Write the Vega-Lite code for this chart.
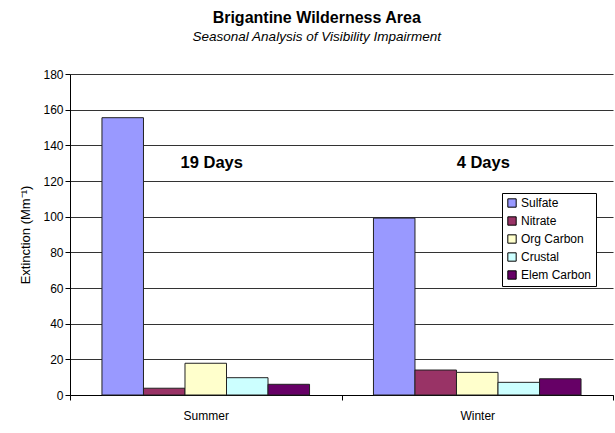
{
  "$schema": "https://vega.github.io/schema/vega-lite/v6.json",
  "width": 543,
  "height": 321,
  "autosize": {"type": "none"},
  "padding": {"left": 70, "top": 74, "right": 2, "bottom": 38},
  "background": "white",
  "config": {
    "font": "Liberation Sans",
    "view": {"stroke": null},
    "axis": {"labelFont": "Liberation Sans", "titleFont": "Liberation Sans", "domainColor": "#000", "tickColor": "#000", "labelColor": "#000", "titleColor": "#000"}
  },
  "title": {
    "text": "Brigantine Wilderness Area",
    "subtitle": "Seasonal Analysis of Visibility Impairment",
    "anchor": "middle",
    "frame": "bounds",
    "fontSize": 16,
    "fontWeight": "bold",
    "color": "#000",
    "subtitleFontSize": 13.5,
    "subtitleFontStyle": "italic",
    "subtitleColor": "#000",
    "subtitlePadding": 4,
    "offset": 25
  },
  "datasets": {
    "bars": [
      {"season": "Summer", "species": "Sulfate", "value": 155.5},
      {"season": "Summer", "species": "Nitrate", "value": 3.8},
      {"season": "Summer", "species": "Org Carbon", "value": 17.8},
      {"season": "Summer", "species": "Crustal", "value": 9.7},
      {"season": "Summer", "species": "Elem Carbon", "value": 6.0},
      {"season": "Winter", "species": "Sulfate", "value": 99.2},
      {"season": "Winter", "species": "Nitrate", "value": 14.0},
      {"season": "Winter", "species": "Org Carbon", "value": 12.7},
      {"season": "Winter", "species": "Crustal", "value": 7.1},
      {"season": "Winter", "species": "Elem Carbon", "value": 9.1}
    ],
    "notes": [
      {"season": "Summer", "label": "19 Days", "value": 130},
      {"season": "Winter", "label": "4 Days", "value": 130}
    ]
  },
  "encoding": {
    "x": {
      "field": "season", "type": "nominal",
      "scale": {"paddingInner": 0, "paddingOuter": 0},
      "axis": {"title": null, "labelAngle": 0, "labelFontSize": 12, "labelPadding": 10, "tickBand": "extent", "tickSize": 5, "grid": false}
    },
    "y": {
      "field": "value", "type": "quantitative",
      "scale": {"domain": [0, 180], "nice": false},
      "axis": {"title": "Extinction (Mm⁻¹)", "titleFontSize": 13, "titleFontWeight": "normal", "titlePadding": 10, "values": [0,20,40,60,80,100,120,140,160,180], "labelOverlap": false, "labelFontSize": 12, "tickSize": 5, "gridColor": "#333", "gridOpacity": 1}
    }
  },
  "layer": [
    {
      "data": {"name": "bars"},
      "mark": {"type": "bar", "stroke": "#222", "strokeWidth": 1},
      "encoding": {
        "xOffset": {
          "field": "species", "type": "nominal",
          "sort": ["Sulfate", "Nitrate", "Org Carbon", "Crustal", "Elem Carbon"],
          "scale": {"paddingInner": 0, "paddingOuter": 0.77}
        },
        "color": {
          "field": "species", "type": "nominal",
          "sort": ["Sulfate", "Nitrate", "Org Carbon", "Crustal", "Elem Carbon"],
          "scale": {"domain": ["Sulfate", "Nitrate", "Org Carbon", "Crustal", "Elem Carbon"], "range": ["#9999FF", "#993366", "#FFFFCC", "#CCFFFF", "#660066"]},
          "legend": {
            "title": null, "orient": "none", "legendX": 432, "legendY": 119,
            "symbolType": "square", "symbolSize": 70, "symbolStrokeColor": "#000", "symbolStrokeWidth": 1,
            "labelFontSize": 12, "labelColor": "#000", "rowPadding": 4, "symbolOffset": 0,
            "padding": 4, "strokeColor": "#000", "fillColor": "white", "labelOffset": 3
          }
        }
      }
    },
    {
      "data": {"name": "notes"},
      "mark": {"type": "text", "fontSize": 16.5, "fontWeight": "bold", "color": "#000", "dx": 6},
      "encoding": {
        "text": {"field": "label"}
      }
    }
  ]
}
